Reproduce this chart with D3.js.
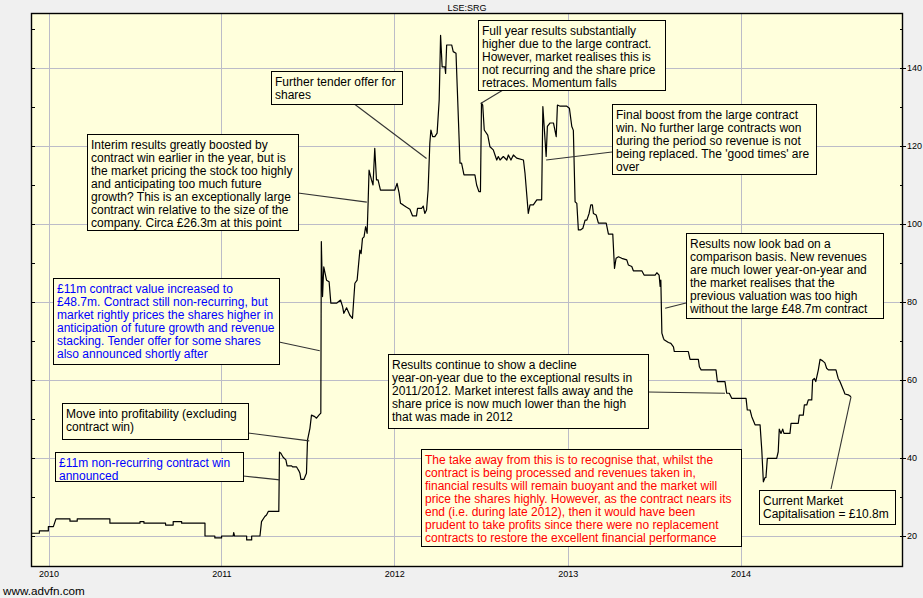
<!DOCTYPE html>
<html><head><meta charset="utf-8">
<script src="https://cdn.jsdelivr.net/npm/d3@7"></script>
<style>
html,body{margin:0;padding:0;background:#f0f0f0;}
svg{display:block;font-family:"Liberation Sans",Arial,sans-serif;}
</style></head><body>
<svg id="chart" width="923" height="598"></svg>
<script>
// ---------- data ----------
const chartTitle = "LSE:SRG";
const sourceLabel = "www.advfn.com";
const yearTicks = [2010, 2011, 2012, 2013, 2014];
const priceTicks = [20, 40, 60, 80, 100, 120, 140];
const minorPriceTicks = [20, 30, 40, 50, 60, 70, 80, 90, 100, 110, 120, 130, 140, 150];

// [decimal year, share price (p)]
const priceSeries = [
[2009.903,20.7],[2009.947,20.7],[2009.947,21.3],[2009.999,21.3],[2009.999,22.4],[2010.028,22.4],[2010.043,24.4],[2010.124,24.4],[2010.124,23.8],[2010.166,23.8],[2010.166,24.4],[2010.355,24.4],[2010.355,23.3],[2010.529,23.3],[2010.529,23.7],[2010.552,23.7],[2010.552,23.3],[2010.677,23.3],[2010.677,22.8],[2010.721,22.8],[2010.721,23.7],[2010.770,23.7],[2010.770,23.3],[2010.905,23.3],[2010.905,20.0],[2010.962,20.0],[2010.962,19.5],[2011.001,19.5],[2011.001,20.0],[2011.068,20.0],[2011.071,20.9],[2011.076,20.0],[2011.146,20.0],[2011.146,19.0],[2011.175,19.0],[2011.175,20.0],[2011.223,20.0],[2011.232,23.7],[2011.251,25.0],[2011.261,25.4],[2011.271,26.3],[2011.332,26.3],[2011.336,41.5],[2011.344,41.2],[2011.357,40.2],[2011.373,39.5],[2011.380,38.0],[2011.406,38.0],[2011.412,37.7],[2011.435,37.7],[2011.440,37.3],[2011.448,36.7],[2011.454,36.1],[2011.460,34.5],[2011.477,34.5],[2011.487,35.6],[2011.492,36.1],[2011.498,44.6],[2011.512,47.6],[2011.521,51.0],[2011.540,50.6],[2011.550,50.2],[2011.564,51.0],[2011.575,51.5],[2011.578,95.5],
[2011.585,81.4],[2011.592,89.0],[2011.608,85.6],[2011.623,85.2],[2011.633,79.7],[2011.666,79.7],[2011.689,80.5],[2011.701,78.8],[2011.708,77.1],[2011.724,78.5],[2011.743,76.6],[2011.758,75.8],[2011.772,84.8],[2011.785,85.6],[2011.801,93.3],[2011.808,92.4],[2011.816,96.3],[2011.825,96.7],[2011.834,99.3],[2011.843,97.6],[2011.849,106.0],[2011.854,113.8],[2011.868,111.3],[2011.877,110.0],[2011.887,119.4],[2011.897,111.3],[2011.906,111.3],[2011.920,108.7],[2012.003,108.7],[2012.016,110.4],[2012.028,107.9],[2012.036,105.3],[2012.051,104.9],[2012.071,104.3],[2012.090,103.8],[2012.105,102.1],[2012.128,102.1],[2012.134,104.0],[2012.157,104.0],[2012.167,104.6],[2012.176,102.7],[2012.186,103.6],[2012.195,108.7],[2012.205,120.7],[2012.211,124.1],[2012.221,122.4],[2012.234,122.4],[2012.247,123.3],[2012.259,131.8],[2012.267,148.4],[2012.276,140.3],[2012.292,140.3],[2012.296,138.6],[2012.302,145.9],[2012.331,145.9],[2012.340,144.2],[2012.356,143.8],[2012.363,135.2],[2012.379,115.6],[2012.388,115.6],[2012.402,112.6],[2012.465,112.6],[2012.475,110.0],[2012.488,108.3],[2012.497,108.3],[2012.503,131.0],[2012.510,130.5],[2012.519,124.1],[2012.539,122.8],[2012.552,119.8],[2012.571,119.0],[2012.581,117.7],[2012.591,116.4],[2012.600,117.3],[2012.610,116.4],[2012.629,117.3],[2012.649,116.4],[2012.658,117.7],[2012.673,116.4],[2012.687,117.7],[2012.706,116.9],[2012.745,116.4],[2012.754,113.0],[2012.773,102.7],[2012.783,104.9],[2012.802,104.9],[2012.822,106.2],[2012.850,106.2],[2012.857,130.1],[2012.876,117.3],[2012.883,125.0],[2012.899,125.9],[2012.918,125.9],[2012.934,122.4],[2012.941,130.5],[2012.957,130.2],[2012.995,130.2],[2013.010,129.7],[2013.024,125.0],[2013.033,124.0],[2013.043,105.7],
[2013.053,105.3],[2013.062,98.5],[2013.076,98.5],[2013.088,98.9],[2013.101,101.0],[2013.111,101.0],[2013.124,102.7],[2013.134,104.9],[2013.143,104.9],[2013.149,102.7],[2013.165,102.3],[2013.178,100.2],[2013.223,100.2],[2013.236,97.4],[2013.261,97.4],[2013.271,88.6],[2013.280,91.2],[2013.294,91.6],[2013.313,91.2],[2013.342,90.8],[2013.351,89.5],[2013.371,89.1],[2013.380,88.0],[2013.429,88.0],[2013.442,86.9],[2013.506,86.9],[2013.516,87.5],[2013.529,86.9],[2013.535,84.0],[2013.539,85.6],[2013.545,72.0],[2013.554,70.7],[2013.558,70.3],[2013.583,69.6],[2013.597,69.4],[2013.612,68.5],[2013.617,67.3],[2013.698,67.3],[2013.708,65.3],[2013.756,65.3],[2013.762,63.4],[2013.772,62.6],[2013.858,62.6],[2013.866,59.6],[2013.910,59.6],[2013.920,56.6],[2013.935,56.6],[2013.949,55.3],[2014.032,55.3],[2014.039,52.3],[2014.055,52.3],[2014.065,50.6],[2014.084,48.5],[2014.113,48.5],[2014.123,42.0],[2014.132,33.9],[2014.142,35.0],[2014.147,35.0],[2014.155,39.9],[2014.209,39.9],[2014.218,41.6],[2014.224,47.4],[2014.234,46.3],[2014.244,47.4],[2014.251,46.3],[2014.286,46.3],[2014.292,48.9],[2014.334,48.9],[2014.340,51.0],[2014.363,51.0],[2014.369,53.6],[2014.383,53.6],[2014.392,54.9],[2014.412,54.9],[2014.417,60.0],[2014.427,60.4],[2014.435,59.6],[2014.450,62.6],[2014.460,65.3],[2014.475,64.9],[2014.488,64.4],[2014.498,63.0],[2014.508,62.6],[2014.552,62.6],[2014.565,60.4],[2014.575,59.6],[2014.585,58.5],[2014.598,57.1],[2014.604,56.4],[2014.623,56.2],[2014.639,55.7]
];

const annotationTexts = [
  ["Further tender offer for", "shares"],
  ["Interim results greatly boosted by", "contract win earlier in the year, but is", "the market pricing the stock too highly", "and anticipating too much future", "growth? This is an exceptionally large", "contract win relative to the size of the", "company. Circa £26.3m at this point"],
  ["Full year results substantially", "higher due to the large contract.", "However, market realises this is", "not recurring and the share price", "retraces. Momentum falls"],
  ["Final boost from the large contract", "win. No further large contracts won", "during the period so revenue is not", "being replaced. The 'good times' are", "over"],
  ["Results now look bad on a", "comparison basis. New revenues", "are much lower year-on-year and", "the market realises that the", "previous valuation was too high", "without the large £48.7m contract"],
  ["Results continue to show a decline", "year-on-year due to the exceptional results in", "2011/2012. Market interest falls away and the", "share price is now much lower than the high", "that was made in 2012"],
  ["Move into profitability (excluding", "contract win)"],
  ["£11m non-recurring contract win", "announced"],
  ["£11m contract value increased to", "£48.7m. Contract still non-recurring, but", "market rightly prices the shares higher in", "anticipation of future growth and revenue", "stacking. Tender offer for some shares", "also announced shortly after"],
  ["The take away from this is to recognise that, whilst the", "contract is being processed and revenues taken in,", "financial results will remain buoyant and the market will", "price the shares highly. However, as the contract nears its", "end (i.e. during late 2012), then it would have been", "prudent to take profits since there were no replacement", "contracts to restore the excellent financial performance"],
  ["Current Market", "Capitalisation = £10.8m"]
];
// point on the price line each note refers to: [decimal year, price]
const annotationAnchors = [
  [2012.186, 116.8], [2011.841, 105.6], [2012.498, 130.9], [2012.876, 116.4],
  [2013.564, 78.4], [2013.910, 56.6], [2011.508, 44.4], [2011.338, 34.4],
  [2011.569, 67.5], null, [2014.639, 55.7]
];
const annotationKinds = ["note","note","note","note","note","note","note","blue","blue","red","note"];

// ---------- layout / style ----------
const W = 923, H = 598;
const plot = {left: 31, top: 13, right: 903, bottom: 567};
const boxLayout = [
  {x:271, y:71,  w:131, h:33, ax:353, ay:103},
  {x:87,  y:134, w:211, h:96, ax:298, ay:193},
  {x:478, y:20,  w:187, h:70, ax:503, ay:90},
  {x:612, y:104, w:204, h:70, ax:612, ay:152},
  {x:686, y:233, w:197, h:85, ax:686, ay:303},
  {x:388, y:354, w:260, h:74, ax:648, ay:392},
  {x:62,  y:403, w:186, h:36, ax:248, ay:433},
  {x:55,  y:452, w:188, h:29, ax:243, ay:476},
  {x:53,  y:278, w:226, h:86, ax:279, ay:342},
  {x:421, y:449, w:320, h:97, ax:0,   ay:0},
  {x:759, y:490, w:136, h:34, ax:831, ay:489}
];
const textColors = {note:"#000000", blue:"#0000ff", red:"#ff0000"};
const plotBg = "#ffffdc";
const gridColor = "#bcbcc8";

function toDate(t){
  const y = Math.floor(t);
  const s = Date.UTC(y,0,1), e = Date.UTC(y+1,0,1);
  return new Date(s + (t - y) * (e - s));
}

const svg = d3.select("#chart");
svg.append("rect").attr("width",W).attr("height",H).attr("fill","#f0f0f0");

const x = d3.scaleUtc()
  .domain([new Date(Date.UTC(2009,10,25)), new Date(Date.UTC(2014,11,10))])
  .range([plot.left, plot.right]);
const y = d3.scaleLinear().domain([12.05, 154.1]).range([plot.bottom, plot.top]);

svg.append("rect")
  .attr("x",plot.left).attr("y",plot.top)
  .attr("width",plot.right-plot.left).attr("height",plot.bottom-plot.top)
  .attr("fill",plotBg);

const px = v => Math.round(v) + 0.5;

// grid
const grid = svg.append("g").attr("stroke",gridColor).attr("stroke-width",1);
grid.selectAll(".vg").data(yearTicks).join("line")
  .attr("x1",d=>px(x(toDate(d)))).attr("x2",d=>px(x(toDate(d))))
  .attr("y1",plot.top).attr("y2",plot.bottom);
grid.selectAll(".hg").data(priceTicks).join("line")
  .attr("x1",plot.left).attr("x2",plot.right)
  .attr("y1",d=>px(y(d))).attr("y2",d=>px(y(d)));

// price line
svg.append("path")
  .datum(priceSeries)
  .attr("fill","none").attr("stroke","#000").attr("stroke-width",1.2)
  .attr("stroke-linejoin","round")
  .attr("d", d3.line().x(d=>x(toDate(d[0]))).y(d=>y(d[1])));

// plot frame
svg.append("rect")
  .attr("x",plot.left+0.5).attr("y",plot.top+0.5)
  .attr("width",plot.right-plot.left-1).attr("height",plot.bottom-plot.top-1)
  .attr("fill","none").attr("stroke","#000").attr("stroke-width",1.4);

// left inner ticks
svg.append("g").selectAll("line").data(minorPriceTicks).join("line")
  .attr("x1",plot.left).attr("x2",plot.left+4)
  .attr("y1",d=>px(y(d))).attr("y2",d=>px(y(d)))
  .attr("stroke","#000");
// right ticks
svg.append("g").selectAll("line").data(minorPriceTicks).join("line")
  .attr("x1",plot.right-3).attr("x2",d=> priceTicks.includes(d) ? plot.right+3 : plot.right)
  .attr("y1",d=>px(y(d))).attr("y2",d=>px(y(d)))
  .attr("stroke","#000");

// right axis labels
const yAxis = d3.axisRight(y).tickValues(priceTicks).tickSize(0).tickPadding(4);
const ya = svg.append("g").attr("transform",`translate(${plot.right},0)`).call(yAxis);
ya.select(".domain").remove();
ya.selectAll("text").attr("font-size",9).attr("font-family","Liberation Sans, Arial, sans-serif").attr("fill","#000");

// bottom axis labels
const xAxis = d3.axisBottom(x).tickValues(yearTicks.map(toDate)).tickSize(0).tickPadding(4)
  .tickFormat(d3.utcFormat("%Y"));
const xa = svg.append("g").attr("transform",`translate(0,${plot.bottom})`).call(xAxis);
xa.select(".domain").remove();
xa.selectAll("text").attr("font-size",9).attr("font-family","Liberation Sans, Arial, sans-serif").attr("fill","#000");

// title and source
svg.append("text").attr("x",(plot.left+plot.right)/2).attr("y",10.5)
  .attr("text-anchor","middle").attr("font-size",9).attr("fill","#000").text(chartTitle);
svg.append("text").attr("x",3).attr("y",594.5)
  .attr("font-size",11.7).attr("fill","#000").text(sourceLabel);

// annotations
annotationTexts.forEach((lines,i)=>{
  const b = boxLayout[i], a = annotationAnchors[i];
  if (a) {
    svg.append("line")
      .attr("x1",b.ax).attr("y1",b.ay)
      .attr("x2",x(toDate(a[0]))).attr("y2",y(a[1]))
      .attr("stroke","#333").attr("stroke-width",1.1);
  }
});
annotationTexts.forEach((lines,i)=>{
  const b = boxLayout[i];
  const g = svg.append("g");
  g.append("rect").attr("x",b.x+0.5).attr("y",b.y+0.5).attr("width",b.w).attr("height",b.h)
    .attr("fill",plotBg).attr("stroke","#000").attr("stroke-width",1);
  const t = g.append("text").attr("font-size",12).attr("fill",textColors[annotationKinds[i]]);
  t.selectAll("tspan").data(lines).join("tspan")
    .attr("x",b.x+4).attr("y",(d,j)=>b.y+15+j*13).text(d=>d);
});
</script>
</body></html>
